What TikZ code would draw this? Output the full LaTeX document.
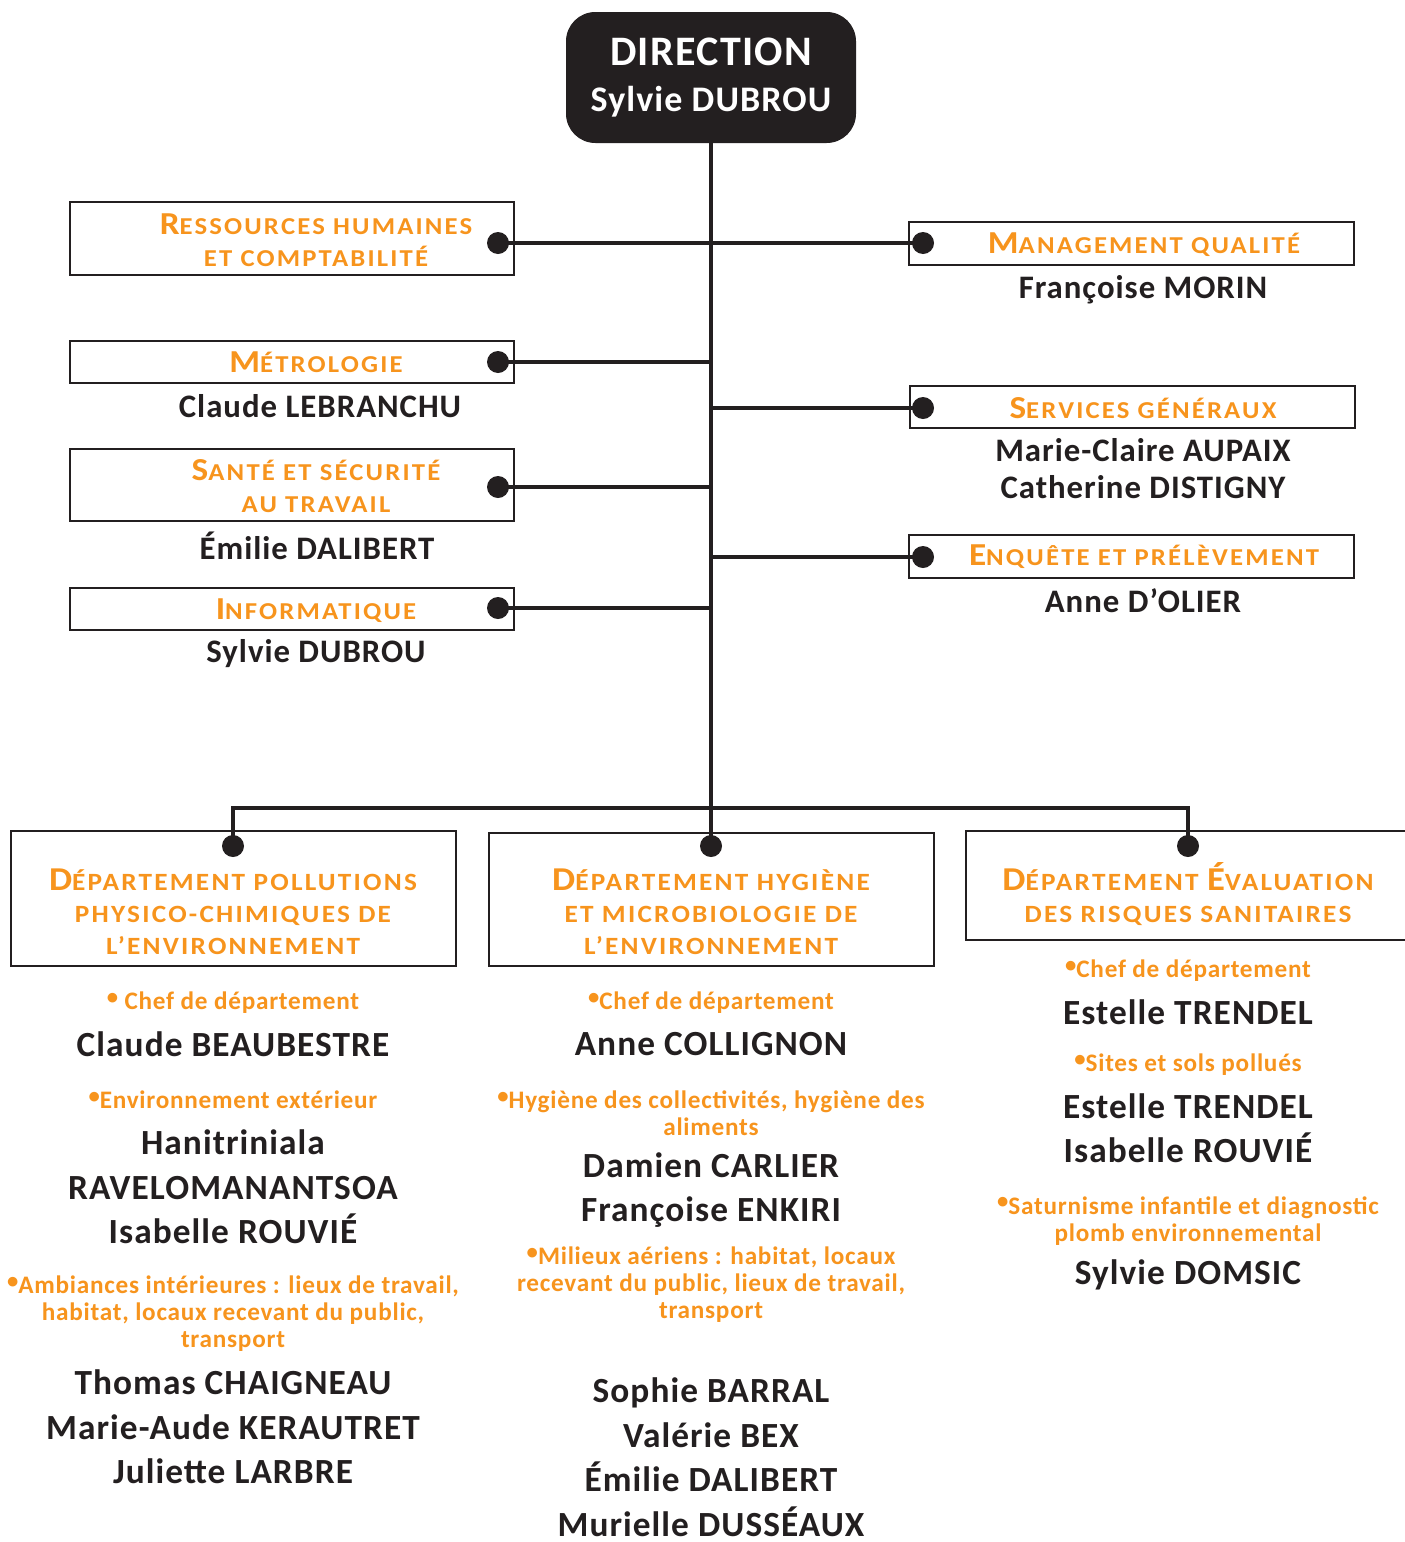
\documentclass[tikz,border=0pt]{standalone}
\usepackage{fontspec}
\setmainfont{Carlito}[LetterSpace=3]
\newfontfamily\hfont{Carlito}[FakeStretch=1.1, LetterSpace=9]
\definecolor{org}{HTML}{F7941D}
\definecolor{ink}{HTML}{231F20}
\newcommand\fs[2]{\fontsize{#1}{#2}\selectfont}
\newcommand\Sb[1]{{\fs{24pt}{24pt}#1}}
\newcommand\Db[1]{{\fs{25pt}{24pt}#1}}
\newcommand\bu{\raisebox{0.22em}{\fs{17pt}{17pt}•}}
\tikzset{
  conn/.style={draw=ink, line width=3pt},
  box/.style={draw=ink, line width=2.2pt, fill=white, inner sep=0, rectangle},
  dirbox/.style={fill=ink, rounded corners=22pt, inner sep=0, text=white, align=center,
     font=\bfseries\fs{30pt}{34pt}},
  dot/.style={circle, fill=ink, inner sep=0, minimum size=16.5pt},
  pname/.style={font=\bfseries\fs{24.6pt}{28pt}, text=ink, align=center, inner sep=0},
  dname/.style={font=\bfseries\fs{26.5pt}{33.4pt}, text=ink, align=center, inner sep=0},
  head/.style={font=\hfont\bfseries\fs{18.2pt}{24pt}, text=org, align=center, inner sep=0},
  dhead/.style={font=\hfont\bfseries\fs{18.6pt}{24pt}, text=org, align=center, inner sep=0},
  bul/.style={font=\bfseries\fs{18.9pt}{20.3pt}, text=org, align=center, inner sep=0},
}
\begin{document}
\begin{tikzpicture}[x=0.75pt, y=-0.75pt]
\useasboundingbox[fill=white] (0,0) rectangle (1405,1542);
% direction
\node[dirbox, minimum width=217.5pt, minimum height=98.25pt] (dir) at (711,77.5) {{\fs{31.5pt}{34pt}DIRECTION}\\{\fs{27pt}{34pt}Sylvie DUBROU}};
\coordinate (tb) at (711,808);
\draw[conn] (dir.south) -- (tb);
% side boxes
\node[box, minimum width=333pt, minimum height=54.75pt] (bRH) at (292,238.5) {};
\node[box, minimum width=333pt, minimum height=31.5pt] (bMET) at (292,362) {};
\node[box, minimum width=333pt, minimum height=54pt] (bSST) at (292,485) {};
\node[box, minimum width=333pt, minimum height=31.5pt] (bINF) at (292,609) {};
\node[box, minimum width=333.75pt, minimum height=32.25pt] (bMQ) at (1131.5,243.5) {};
\node[box, minimum width=333.75pt, minimum height=31.5pt] (bSG) at (1132.5,407) {};
\node[box, minimum width=333.75pt, minimum height=32.25pt] (bENQ) at (1131.5,556.5) {};
% dept boxes
\node[box, minimum width=333.75pt, minimum height=101.25pt] (bDL) at (233.5,898.5) {};
\node[box, minimum width=333.75pt, minimum height=99.75pt] (bDM) at (711.5,899.5) {};
\node[box, minimum width=333pt, minimum height=81.75pt] (bDR) at (1188,885.5) {};
% dots
\node[dot] (dRH) at (498,243) {};
\node[dot] (dMET) at (498,362) {};
\node[dot] (dSST) at (498,487) {};
\node[dot] (dINF) at (498,608) {};
\node[dot] (dMQ) at (923,243) {};
\node[dot] (dSG) at (923,408) {};
\node[dot] (dENQ) at (923,557) {};
\node[dot] (dDL) at (233,846) {};
\node[dot] (dDM) at (711,846) {};
\node[dot] (dDR) at (1188,846) {};
% connectors
\draw[conn] (dRH.center) -- (dMQ.center);
\draw[conn] (dMET.center) -- (dMET.center -| tb);
\draw[conn] (dSST.center) -- (dSST.center -| tb);
\draw[conn] (dINF.center) -- (dINF.center -| tb);
\draw[conn] (dSG.center) -- (dSG.center -| tb);
\draw[conn] (dENQ.center) -- (dENQ.center -| tb);
\draw[conn] (dDL.center) |- (tb) -| (dDR.center);
\draw[conn] (tb) -- (dDM.center);
% side headings
\node[head] (hRH) at (316,240) {\Sb{R}ESSOURCES HUMAINES\\ET COMPTABILITÉ};
\node[head] (hMET) at (316,362) {\Sb{M}ÉTROLOGIE};
\node[head] (hSST) at (316,486) {\Sb{S}ANTÉ ET SÉCURITÉ\\AU TRAVAIL};
\node[head] (hINF) at (316,611) {\Sb{I}NFORMATIQUE};
\node[head] (hMQ) at (1144,245) {\Sb{M}ANAGEMENT QUALITÉ};
\node[head] (hSG) at (1143,408) {\Sb{S}ERVICES GÉNÉRAUX};
\node[head] (hENQ) at (1144,557) {\Sb{E}NQUÊTE ET PRÉLÈVEMENT};
% side names
\node[pname] (nMET) at (320,406) {Claude LEBRANCHU};
\node[pname] (nSST) at (317,546) {Émilie DALIBERT};
\node[pname] (nINF) at (316,654) {Sylvie DUBROU};
\node[pname] (nMQ) at (1143,290) {Françoise MORIN};
\node[pname] (nSG) at (1143,468.5) {Marie-Claire AUPAIX\\Catherine DISTIGNY};
\node[pname] (nENQ) at (1143,601) {Anne D’OLIER};
% dept headings
\node[dhead] (hDL) at (233,912) {\Db{D}ÉPARTEMENT POLLUTIONS\\PHYSICO-CHIMIQUES DE\\L’ENVIRONNEMENT};
\node[dhead] (hDM) at (711,912) {\Db{D}ÉPARTEMENT HYGIÈNE\\ET MICROBIOLOGIE DE\\L’ENVIRONNEMENT};
\node[dhead] (hDR) at (1188,894) {\Db{D}ÉPARTEMENT \Db{É}VALUATION\\DES RISQUES SANITAIRES};
% left column
\node[bul] (lc1) at (233,1003) {\bu\ Chef de département};
\node[dname] (ln1) at (233,1044) {Claude BEAUBESTRE};
\node[bul] (lc2) at (233,1100) {\bu Environnement extérieur};
\node[dname] (ln2) at (233,1187) {Hanitriniala\\RAVELOMANANTSOA\\Isabelle ROUVIÉ};
\node[bul] (lc3) at (233,1314) {\bu Ambiances intérieures : lieux de travail,\\habitat, locaux recevant du public,\\transport};
\node[dname] (ln3) at (233,1427) {Thomas CHAIGNEAU\\Marie-Aude KERAUTRET\\Juliette LARBRE};
% middle column
\node[bul] (mc1) at (711,1003) {\bu Chef de département};
\node[dname] (mn1) at (711,1044) {Anne COLLIGNON};
\node[bul] (mc2) at (711,1113.5) {\bu Hygiène des collectivités, hygiène des\\aliments};
\node[dname] (mn2) at (711,1190) {Damien CARLIER\\Françoise ENKIRI};
\node[bul] (mc3) at (711,1285) {\bu Milieux aériens : habitat, locaux\\recevant du public, lieux de travail,\\transport};
\node[dname] (mn3) at (711,1457) {Sophie BARRAL\\Valérie BEX\\Émilie DALIBERT\\Murielle DUSSÉAUX};
% right column
\node[bul] (rc1) at (1188,971) {\bu Chef de département};
\node[dname] (rn1) at (1188,1012) {Estelle TRENDEL};
\node[bul] (rc2) at (1188,1065) {\bu Sites et sols pollués};
\node[dname] (rn2) at (1188,1128) {Estelle TRENDEL\\Isabelle ROUVIÉ};
\node[bul] (rc3) at (1188,1221) {\bu Saturnisme infantile et diagnostic\\plomb environnemental};
\node[dname] (rn3) at (1188,1275) {Sylvie DOMSIC};
\end{tikzpicture}
\end{document}
